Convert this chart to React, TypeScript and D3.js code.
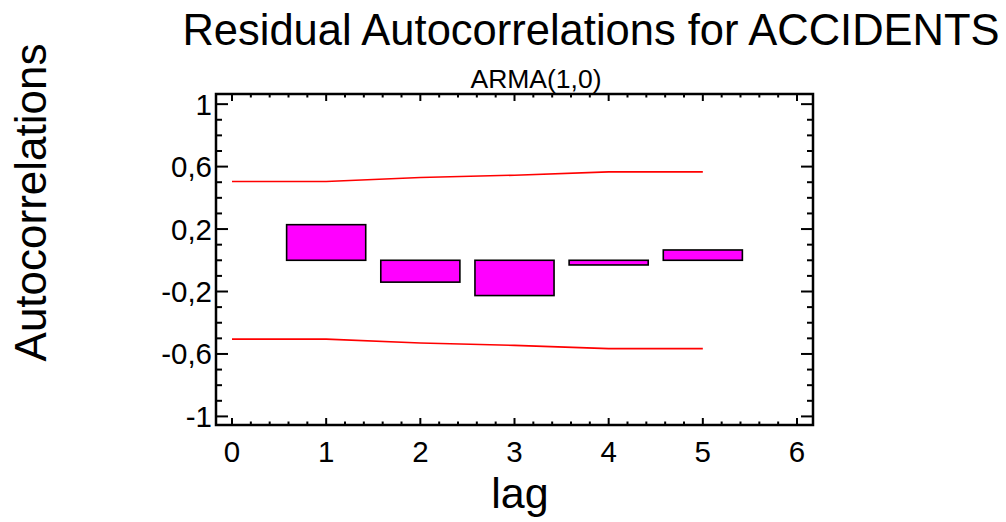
import React from "react";
import * as d3 from "d3";

const lags = [1, 2, 3, 4, 5];
const autocorr = [0.228, -0.14, -0.226, -0.03, 0.066];
const limitLags = [0, 1, 2, 3, 4, 5];
const upperLimits = [0.505, 0.505, 0.53, 0.545, 0.566, 0.566];
const lowerLimits = [-0.505, -0.505, -0.53, -0.545, -0.566, -0.566];
const yMajorTicks = [1, 0.6, 0.2, -0.2, -0.6, -1];
const yTickLabels = ["1", "0,6", "0,2", "-0,2", "-0,6", "-1"];
const xMajorTicks = [0, 1, 2, 3, 4, 5, 6];
const xTickLabels = ["0", "1", "2", "3", "4", "5", "6"];

const W = 1006;
const H = 522;
const L = 216, R = 813, T = 94, B = 425;
const FONT = "'Liberation Sans', Arial, sans-serif";

export default function App() {
  const x = d3.scaleLinear().domain([-0.17, 6.17]).range([L, R]);
  const y = d3.scaleLinear().domain([-1.055, 1.065]).range([B, T]);
  const yMinor = d3.range(-10, 11).map((i) => i / 10);
  const xMinor = d3.range(0, 31).map((i) => i / 5);
  const isYMajor = (v: number) => yMajorTicks.some((m) => Math.abs(m - v) < 1e-6);
  const isXMajor = (v: number) => xMajorTicks.some((m) => Math.abs(m - v) < 1e-6);
  const barW = 0.84;
  const line = d3
    .line<number>()
    .x((_, i) => x(limitLags[i]))
    .y((d) => y(d));

  return (
    <svg width={W} height={H} style={{ position: "absolute", left: 0, top: 0, background: "#fff" }}>
      <text x={591} y={45} textAnchor="middle" fontFamily={FONT} fontSize={43.5} fill="#000">
        Residual Autocorrelations for ACCIDENTS
      </text>
      <text x={536} y={88} textAnchor="middle" fontFamily={FONT} fontSize={26.5} fill="#000">
        ARMA(1,0)
      </text>
      <text
        transform={`translate(46, ${(T + B) / 2 - 57}) rotate(-90)`}
        textAnchor="middle"
        fontFamily={FONT}
        fontSize={44}
        fill="#000"
      >
        Autocorrelations
      </text>
      <text x={520} y={508} textAnchor="middle" fontFamily={FONT} fontSize={43} fill="#000">
        lag
      </text>

      {/* bars */}
      {lags.map((lag, i) => {
        const v = autocorr[i];
        const y0 = y(Math.max(0, v));
        const y1 = y(Math.min(0, v));
        return (
          <rect
            key={lag}
            x={x(lag - barW / 2)}
            y={y0}
            width={x(lag + barW / 2) - x(lag - barW / 2)}
            height={y1 - y0}
            fill="#ff00ff"
            stroke="#000"
            strokeWidth={1.6}
          />
        );
      })}

      {/* limit lines */}
      <path d={line(upperLimits) || ""} fill="none" stroke="#ff0000" strokeWidth={1.6} />
      <path d={line(lowerLimits) || ""} fill="none" stroke="#ff0000" strokeWidth={1.6} />

      {/* y ticks */}
      {yMinor.map((v) => {
        const len = isYMajor(v) ? 12 : 6;
        return (
          <g key={"y" + v}>
            <line x1={L} x2={L + len} y1={y(v)} y2={y(v)} stroke="#000" strokeWidth={2} />
            <line x1={R} x2={R - len} y1={y(v)} y2={y(v)} stroke="#000" strokeWidth={2} />
          </g>
        );
      })}
      {/* x ticks */}
      {xMinor.map((v) => {
        const len = isXMajor(v) ? 7 : 3.5;
        return (
          <g key={"x" + v}>
            <line x1={x(v)} x2={x(v)} y1={B} y2={B - len} stroke="#000" strokeWidth={2} />
            <line x1={x(v)} x2={x(v)} y1={T} y2={T + len} stroke="#000" strokeWidth={2} />
          </g>
        );
      })}

      {/* frame */}
      <rect x={L} y={T} width={R - L} height={B - T} fill="none" stroke="#000" strokeWidth={2.5} />

      {/* tick labels */}
      {yMajorTicks.map((v, i) => (
        <text
          key={"yl" + v}
          x={L - 4}
          y={y(v) + 10.5}
          textAnchor="end"
          fontFamily={FONT}
          fontSize={29.5}
          fill="#000"
        >
          {yTickLabels[i]}
        </text>
      ))}
      {xMajorTicks.map((v, i) => (
        <text
          key={"xl" + v}
          x={x(v)}
          y={B + 37}
          textAnchor="middle"
          fontFamily={FONT}
          fontSize={29.5}
          fill="#000"
        >
          {xTickLabels[i]}
        </text>
      ))}
    </svg>
  );
}
